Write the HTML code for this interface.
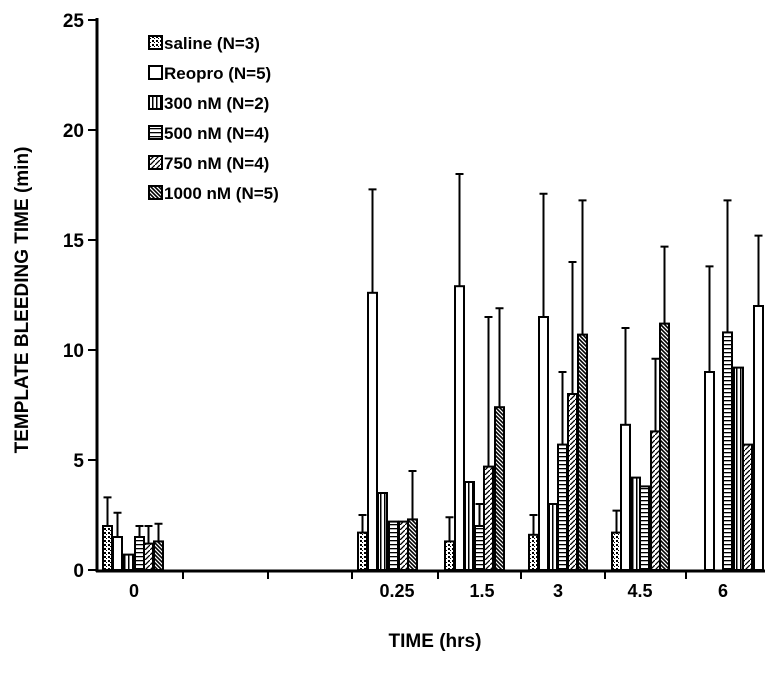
<!DOCTYPE html><html><head><style>body{margin:0;background:#fff}</style></head><body>
<svg width="772" height="672" xmlns="http://www.w3.org/2000/svg" font-family="Liberation Sans, sans-serif" font-weight="bold">
<defs>
<pattern id="p0" width="4" height="4" patternUnits="userSpaceOnUse"><rect width="4" height="4" fill="#fff"/><rect width="2" height="2" fill="#000"/><rect x="2" y="2" width="1" height="1" fill="#000"/></pattern>
<pattern id="p2" width="4" height="4" patternUnits="userSpaceOnUse"><rect width="4" height="4" fill="#fff"/><rect width="1.5" height="4" fill="#000"/></pattern>
<pattern id="p3" width="4" height="4" patternUnits="userSpaceOnUse"><rect width="4" height="4" fill="#fff"/><rect width="4" height="1.3" fill="#000"/></pattern>
<pattern id="p4" width="5" height="5" patternUnits="userSpaceOnUse"><rect width="5" height="5" fill="#fff"/><path d="M0 5L5 0" stroke="#000" stroke-width="1.3"/></pattern>
<pattern id="p5" width="4" height="4" patternUnits="userSpaceOnUse"><rect width="4" height="4" fill="#fff"/><path d="M0 0L4 4M-1 3L1 5M3 -1L5 1" stroke="#000" stroke-width="1.6"/></pattern>
</defs>
<g stroke="#000" stroke-width="2">
<path d="M107.5 526V497.4M103.5 497.4h8M117.5 537V512.8M113.5 512.8h8M139.5 537V526M135.5 526h8M148.5 543.6V526M144.5 526h8M158.5 541.4V523.8M154.5 523.8h8
M362.5 532.6V515M358.5 515h8M372.5 292.8V189.4M368.5 189.4h8M412.5 519.4V471M408.5 471h8
M449.5 541.4V517.2M445.5 517.2h8M459.5 286.2V174M455.5 174h8M479.5 526V504M475.5 504h8M488.5 466.6V317M484.5 317h8M499.5 407.2V308.2M495.5 308.2h8
M533.5 534.8V515M529.5 515h8M543.5 317V193.8M539.5 193.8h8M562.5 444.6V372M558.5 372h8M572.5 394V262M568.5 262h8M582.5 334.6V200.4M578.5 200.4h8
M616.5 532.6V510.6M612.5 510.6h8M625.5 424.8V328M621.5 328h8M655.5 431.4V358.8M651.5 358.8h8M664.5 323.6V246.6M660.5 246.6h8
M709.5 372V266.4M705.5 266.4h8M727.5 332.4V200.4M723.5 200.4h8M758.5 306V235.6M754.5 235.6h8" fill="none"/>
<rect x="103" y="526" width="9" height="44" fill="url(#p0)"/>
<rect x="113" y="537" width="9" height="33" fill="#fff"/>
<rect x="124" y="554.6" width="9" height="15.4" fill="url(#p2)"/>
<rect x="135" y="537" width="9" height="33" fill="url(#p3)"/>
<rect x="144" y="543.6" width="9" height="26.4" fill="url(#p4)"/>
<rect x="154" y="541.4" width="9" height="28.6" fill="url(#p5)"/>
<rect x="358" y="532.6" width="9" height="37.4" fill="url(#p0)"/>
<rect x="368" y="292.8" width="9" height="277.2" fill="#fff"/>
<rect x="378" y="493" width="9" height="77" fill="url(#p2)"/>
<rect x="389" y="521.6" width="9" height="48.4" fill="url(#p3)"/>
<rect x="399" y="521.6" width="9" height="48.4" fill="url(#p4)"/>
<rect x="408" y="519.4" width="9" height="50.6" fill="url(#p5)"/>
<rect x="445" y="541.4" width="9" height="28.6" fill="url(#p0)"/>
<rect x="455" y="286.2" width="9" height="283.8" fill="#fff"/>
<rect x="465" y="482" width="9" height="88" fill="url(#p2)"/>
<rect x="475" y="526" width="9" height="44" fill="url(#p3)"/>
<rect x="484" y="466.6" width="9" height="103.4" fill="url(#p4)"/>
<rect x="495" y="407.2" width="9" height="162.8" fill="url(#p5)"/>
<rect x="529" y="534.8" width="9" height="35.2" fill="url(#p0)"/>
<rect x="539" y="317" width="9" height="253" fill="#fff"/>
<rect x="549" y="504" width="9" height="66" fill="url(#p2)"/>
<rect x="558" y="444.6" width="9" height="125.4" fill="url(#p3)"/>
<rect x="568" y="394" width="9" height="176" fill="url(#p4)"/>
<rect x="578" y="334.6" width="9" height="235.4" fill="url(#p5)"/>
<rect x="612" y="532.6" width="9" height="37.4" fill="url(#p0)"/>
<rect x="621" y="424.8" width="9" height="145.2" fill="#fff"/>
<rect x="631" y="477.6" width="9" height="92.4" fill="url(#p2)"/>
<rect x="640" y="486.4" width="9" height="83.6" fill="url(#p3)"/>
<rect x="651" y="431.4" width="9" height="138.6" fill="url(#p4)"/>
<rect x="660" y="323.6" width="9" height="246.4" fill="url(#p5)"/>
<rect x="705" y="372" width="9" height="198" fill="#fff"/>
<rect x="723" y="332.4" width="9" height="237.6" fill="url(#p3)"/>
<rect x="734" y="367.6" width="9" height="202.4" fill="url(#p2)"/>
<rect x="743" y="444.6" width="9" height="125.4" fill="url(#p4)"/>
<rect x="754" y="306" width="9" height="264" fill="#fff"/>
</g>
<line x1="97" y1="18" x2="97" y2="572" stroke="#000" stroke-width="3"/>
<line x1="96" y1="571" x2="765" y2="571" stroke="#000" stroke-width="3"/>
<g stroke="#000" stroke-width="2">
<line x1="88" y1="570" x2="97" y2="570"/><line x1="88" y1="460" x2="97" y2="460"/><line x1="88" y1="350" x2="97" y2="350"/><line x1="88" y1="240" x2="97" y2="240"/><line x1="88" y1="130" x2="97" y2="130"/><line x1="88" y1="20" x2="97" y2="20"/>
<line x1="183" y1="571" x2="183" y2="579"/><line x1="268" y1="571" x2="268" y2="579"/><line x1="352" y1="571" x2="352" y2="579"/><line x1="438" y1="571" x2="438" y2="579"/><line x1="521" y1="571" x2="521" y2="579"/><line x1="605" y1="571" x2="605" y2="579"/><line x1="686" y1="571" x2="686" y2="579"/>
</g>
<g font-size="19" text-anchor="end">
<text x="84" y="577">0</text><text x="84" y="467">5</text><text x="84" y="357">10</text><text x="84" y="247">15</text><text x="84" y="137">20</text><text x="84" y="27">25</text></g>
<g font-size="18" text-anchor="middle">
<text x="134" y="597">0</text><text x="397" y="597">0.25</text><text x="482" y="597">1.5</text><text x="558" y="597">3</text><text x="640" y="597">4.5</text><text x="723" y="597">6</text>
<text x="435" y="647" font-size="19">TIME (hrs)</text>
<text transform="translate(28,300) rotate(-90)" font-size="19">TEMPLATE BLEEDING TIME (min)</text></g>
<g font-size="17" stroke="#000" stroke-width="2">
<rect x="149" y="36" width="13" height="13" fill="url(#p0)"/><text x="164" y="49" stroke="none">saline (N=3)</text>
<rect x="149" y="66" width="13" height="13" fill="#fff"/><text x="164" y="79" stroke="none">Reopro (N=5)</text>
<rect x="149" y="96" width="13" height="13" fill="url(#p2)"/><text x="164" y="109" stroke="none">300 nM (N=2)</text>
<rect x="149" y="126" width="13" height="13" fill="url(#p3)"/><text x="164" y="139" stroke="none">500 nM (N=4)</text>
<rect x="149" y="156" width="13" height="13" fill="url(#p4)"/><text x="164" y="169" stroke="none">750 nM (N=4)</text>
<rect x="149" y="186" width="13" height="13" fill="url(#p5)"/><text x="164" y="199" stroke="none">1000 nM (N=5)</text>
</g>
</svg></body></html>
